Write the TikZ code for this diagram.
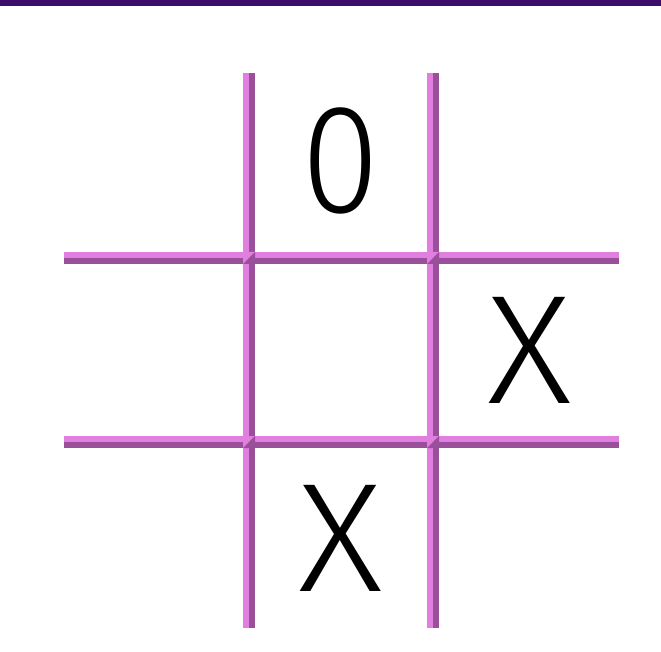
\documentclass[tikz,border=0pt]{standalone}
\usepackage{fontspec}
\setmainfont{Fira Sans Light}
\definecolor{barpurple}{HTML}{3D0C6B}
\definecolor{lightpink}{HTML}{E07FE0}
\definecolor{darkpink}{HTML}{9A4F9A}
\begin{document}
\begin{tikzpicture}[x=1pt,y=-1pt,
  glyph/.style={inner sep=0pt, font=\fontsize{155}{155}\selectfont, text=black}]
\useasboundingbox (0,0) rectangle (661,652);
\fill[white] (0,0) rectangle (661,652);
\fill[barpurple] (0,0) rectangle (661,6);
% horizontal lines
\foreach \r in {258,442}{
  \fill[lightpink] (64,\r-6) rectangle (619,\r);
  \fill[darkpink] (64,\r) rectangle (619,\r+6);
}
% vertical lines
\foreach \c in {249,433}{
  \fill[lightpink] (\c-6,73) rectangle (\c,628);
  \fill[darkpink] (\c,73) rectangle (\c+6,628);
}
% beveled intersections
\foreach \c in {249,433}{
  \foreach \r in {258,442}{
    \fill[lightpink] (\c-6,\r-6) -- (\c+6,\r-6) -- (\c-6,\r+6) -- cycle;
    \fill[darkpink] (\c+6,\r-6) -- (\c+6,\r+6) -- (\c-6,\r+6) -- cycle;
  }
}
\node[glyph, xscale=0.92] (o1) at (341,161) {0};
\node[glyph, xscale=1.06] (x1) at (530,350) {X};
\node[glyph, xscale=1.06] (x2) at (341,538) {X};
\end{tikzpicture}
\end{document}
